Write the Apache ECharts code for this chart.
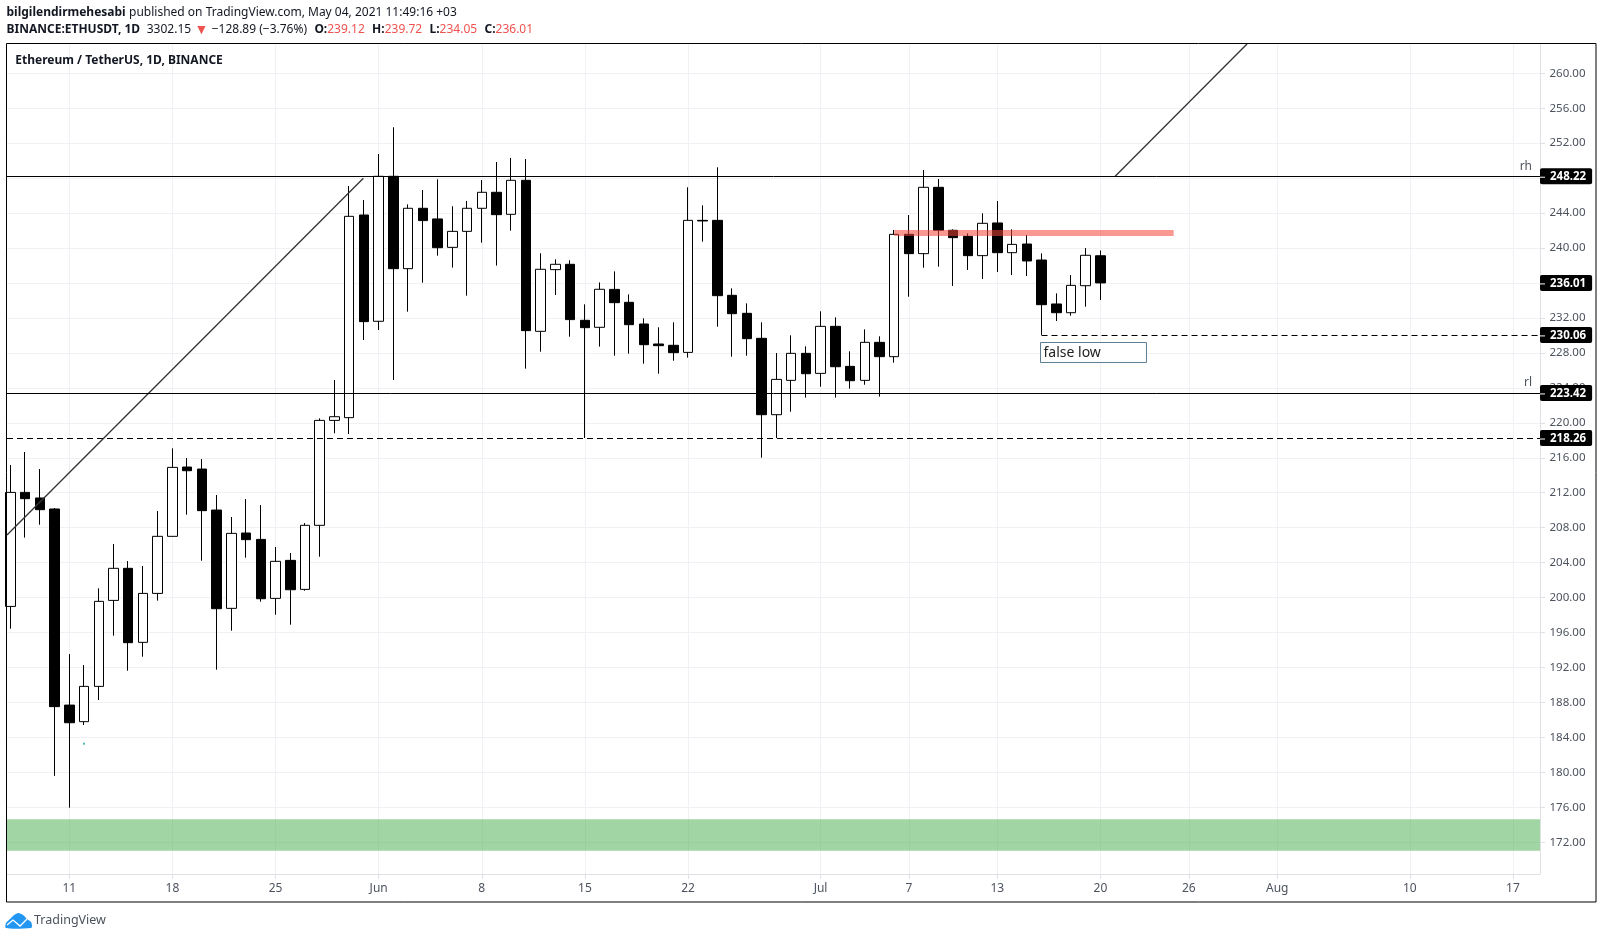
<!DOCTYPE html>
<html>
<head>
<meta charset="utf-8">
<style>html,body{margin:0;padding:0;background:#fff}#c{width:1603px;height:939px}</style>
<script src="https://cdn.jsdelivr.net/npm/echarts@6/dist/echarts.min.js"></script>
</head>
<body>
<div id="c"></div>
<script>
const firstDay = Date.UTC(2020, 4, 7);
const DAY = 86400000;
const opens = [198.99,212.04,211.40,210.14,187.70,185.80,189.84,199.68,203.35,194.88,200.48,207.01,214.94,214.71,210.02,198.77,207.39,206.66,199.91,204.26,200.94,208.27,220.28,220.59,243.78,231.62,248.21,237.64,244.55,243.33,240.08,241.91,244.55,246.38,243.86,247.75,230.47,237.53,238.14,231.73,230.93,235.27,233.79,231.31,229.02,228.87,228.06,243.17,243.17,234.59,232.53,229.67,220.93,224.86,227.95,225.66,231.04,226.46,224.86,229.21,227.57,241.57,239.36,246.95,242.03,241.34,239.13,242.87,239.47,240.46,238.63,233.60,232.60,235.69,239.12];
const closes = [212.04,211.32,210.06,187.52,185.68,189.84,199.57,203.35,194.84,200.48,207.01,214.90,214.52,209.95,198.73,207.35,206.63,199.87,204.15,200.90,208.27,220.28,220.70,243.63,231.58,248.21,237.64,244.55,243.14,240.04,241.91,244.55,246.38,243.82,247.75,230.55,237.57,238.14,231.81,230.89,235.28,233.75,231.23,228.94,228.83,228.03,243.17,243.10,234.55,232.49,229.63,220.93,224.97,227.95,225.62,231.04,226.42,224.82,229.21,227.57,241.57,239.36,246.95,242.03,241.19,239.13,242.83,239.47,240.42,238.52,233.52,232.60,235.73,239.17,236.01];
const lows = [196.44,206.86,208.34,179.60,175.96,185.42,188.28,195.64,191.63,193.24,199.65,207.01,209.49,204.22,191.75,196.21,204.57,199.53,198.04,196.90,200.79,204.68,218.80,218.72,229.48,230.62,224.90,232.72,236.04,239.13,237.76,234.55,240.62,237.99,241.99,226.20,228.14,234.63,229.86,218.26,228.72,227.68,227.91,226.77,225.62,227.11,227.46,240.73,231.00,227.57,227.68,216.01,218.26,221.27,222.88,224.13,222.88,223.91,224.36,223.00,226.88,234.43,237.75,237.87,235.66,237.49,236.46,237.26,236.91,236.80,230.06,231.65,232.26,233.29,234.05];
const highs = [215.17,216.66,214.71,210.25,193.54,192.28,201.06,206.13,204.18,203.61,209.91,217.08,215.97,215.86,211.74,209.22,211.28,210.59,205.79,205.10,208.53,220.51,224.90,247.10,245.50,250.76,253.82,245.00,246.64,247.87,244.78,245.39,247.79,249.85,250.31,250.19,239.40,238.71,238.60,233.56,236.07,237.33,234.70,231.96,230.93,231.50,246.95,244.89,249.24,235.39,233.67,231.50,227.99,230.01,228.75,232.76,232.07,228.18,230.70,229.90,242.07,243.78,248.93,247.90,242.14,241.68,243.97,245.38,242.14,241.49,239.39,234.82,236.91,240.00,239.72];

const dayLabels = [['2020-05-11','11'],['2020-05-18','18'],['2020-05-25','25'],['2020-06-01','Jun'],['2020-06-08','8'],['2020-06-15','15'],['2020-06-22','22'],['2020-07-01','Jul'],['2020-07-07','7'],['2020-07-13','13'],['2020-07-20','20'],['2020-07-26','26'],['2020-08-01','Aug'],['2020-08-10','10'],['2020-08-17','17']];
const priceTicks = [172,176,180,184,188,192,196,200,204,208,212,216,220,224,228,232,236,240,244,248,252,256,260];
const rangeHigh = 248.22, rangeLow = 223.42, lastClose = 236.01, falseLow = 230.06, lowerLevel = 218.26;
const greenZone = [171.03, 174.63];
const redZone = [241.38, 242.07];
const redZoneDays = [60.0, 78.97];
const falseLowStartDay = 70;
const trendA = [[-0.231, 207.16], [23.96, 247.98]];
const trendB = [[75.0, 248.22], [83.95, 263.35]];
const tealDot = [5, 183.28];
const axisDays = [-0.231, 103.84];

const xMin = axisDays[0], xMax = axisDays[1];
const candleData = opens.map((o, i) => [i, o, closes[i], lows[i], highs[i]]);
const tickDays = dayLabels.map(d => Math.round((Date.parse(d[0] + 'T00:00:00Z') - firstDay) / DAY));
const tickText = {}; dayLabels.forEach((d, i) => tickText[tickDays[i]] = d[1]);

function tag(v) {
  return {
    show: true, position: 'end', distance: 0,
    formatter: '{t|}{g|}{v|' + v.toFixed(2) + '}',
    backgroundColor: '#000', borderRadius: 2, padding: [2, 6, 0, 0],
    rich: {
      t: {width: 5, height: 1, backgroundColor: '#fff'},
      g: {width: 5, height: 14},
      v: {color: '#fff', fontFamily: 'Noto Sans', fontSize: 11.5, fontWeight: 'bold', lineHeight: 14}
    }
  };
}
function level(v, dashed, start) {
  const style = {color: '#000', width: dashed ? 1.2 : 1, type: dashed ? [6, 4] : 'solid'};
  return [{coord: [start, v], lineStyle: style, label: tag(v), symbol: 'none'}, {coord: [xMax, v], symbol: 'none'}];
}
const hiddenLast = level(lastClose, false, xMin);
hiddenLast[0].lineStyle = {color: 'rgba(0,0,0,0)', width: 0};

const chart = echarts.init(document.getElementById('c'), null, {renderer: 'canvas'});
const fontUI = 'Noto Sans';
chart.setOption({
  animation: false,
  backgroundColor: '#fff',
  grid: {left: 7, right: 63, top: 44, bottom: 65},
  xAxis: {
    type: 'value', min: xMin, max: xMax, scale: true,
    axisLine: {show: true, onZero: false, lineStyle: {color: '#dfe1e6', width: 1}},
    axisTick: {show: true, customValues: tickDays, length: 5, lineStyle: {color: '#dfe1e6'}},
    axisLabel: {customValues: tickDays, color: '#4c525e', fontFamily: fontUI, fontSize: 12, margin: 9,
      hideOverlap: false, formatter: v => tickText[v] || ''},
    splitLine: {show: true, lineStyle: {color: '#f0f1f4', width: 1}}
  },
  yAxis: {
    type: 'value', position: 'right', min: 168.37, max: 263.35, scale: true,
    axisLine: {show: true, onZero: false, lineStyle: {color: '#dfe1e6', width: 1}},
    axisTick: {show: true, customValues: priceTicks, length: 5, lineStyle: {color: '#dfe1e6'}},
    axisLabel: {customValues: priceTicks, color: '#4c525e', fontFamily: fontUI, fontSize: 11.5, margin: 9.5,
      hideOverlap: false, formatter: v => v.toFixed(2)},
    splitLine: {show: true, lineStyle: {color: '#f0f1f4', width: 1}}
  },
  series: [
    {
      type: 'candlestick', data: candleData, encode: {x: 0, y: [1, 2, 3, 4]},
      barWidth: 10, z: 3,
      itemStyle: {color: '#fff', color0: '#000', borderColor: '#000', borderColor0: '#000', borderWidth: 1},
      markArea: {
        silent: true, z: 6,
        data: [
          [{coord: [redZoneDays[0], redZone[1]], itemStyle: {color: 'rgba(244,67,54,0.55)'}}, {coord: [redZoneDays[1], redZone[0]]}],
          [{coord: [xMin, greenZone[1]], itemStyle: {color: 'rgba(76,175,80,0.52)'}}, {coord: [xMax, greenZone[0]]}]
        ]
      },
      markLine: {
        silent: true, symbol: 'none', z: 7, precision: 2,
        data: [
          level(rangeHigh, false, xMin),
          level(rangeLow, false, xMin),
          level(lowerLevel, true, xMin),
          level(falseLow, true, falseLowStartDay),
          hiddenLast
        ]
      }
    },
    {type: 'line', z: 5, showSymbol: false, symbol: 'none', silent: true, lineStyle: {color: '#333', width: 1.3},
      data: trendA},
    {type: 'line', z: 5, showSymbol: false, symbol: 'none', silent: true, lineStyle: {color: '#333', width: 1.3},
      data: trendB},
    {type: 'scatter', z: 5, silent: true, symbol: 'rect', symbolSize: 2, itemStyle: {color: '#26a69a'},
      data: [tealDot]}
  ],
  graphic: [
    {type: 'rect', silent: true, z: 50, shape: {x: 6.5, y: 43.5, width: 1589.5, height: 858.5},
      style: {fill: 'none', stroke: '#000', lineWidth: 1}},
    {type: 'text', z: 60, x: 6.5, y: 12.5, style: {
      text: '{b|bilgilendirmehesabi} {r|published on TradingView.com, May 04, 2021 11:49:16 +03}',
      verticalAlign: 'middle',
      rich: {b: {fontFamily: fontUI, fontSize: 12, fontWeight: 'bold', fill: '#131722'},
             r: {fontFamily: fontUI, fontSize: 12, fill: '#131722'}}}},
    {type: 'text', z: 60, x: 6.5, y: 30, style: {
      text: '{b|BINANCE:ETHUSDT, 1D}  {r|3302.15} {a|▼} {r|−128.89 (−3.76%)} {k|O:}{d|239.12} {k|H:}{d|239.72} {k|L:}{d|234.05} {k|C:}{d|236.01}',
      verticalAlign: 'middle',
      rich: {b: {fontFamily: fontUI, fontSize: 12, fontWeight: 'bold', fill: '#131722'},
             k: {fontFamily: fontUI, fontSize: 12, fontWeight: 'bold', fill: '#131722', padding: [0, 0, 0, 4]},
             r: {fontFamily: fontUI, fontSize: 12, fill: '#131722'},
             a: {fontFamily: fontUI, fontSize: 14, fill: '#ef5350'},
             d: {fontFamily: fontUI, fontSize: 12, fill: '#ef5350'}}}},
    {type: 'text', z: 60, x: 15.3, y: 61, style: {text: 'Ethereum / TetherUS, 1D, BINANCE',
      verticalAlign: 'middle', font: 'bold 12px "Noto Sans"', fill: '#131722'}},
    {type: 'text', z: 60, x: 1532, y: 167, style: {text: 'rh', align: 'right', verticalAlign: 'middle',
      font: '12px "Noto Sans"', fill: '#4c525e'}},
    {type: 'text', z: 60, x: 1532, y: 382.5, style: {text: 'rl', align: 'right', verticalAlign: 'middle',
      font: '12px "Noto Sans"', fill: '#4c525e'}},
    {type: 'rect', z: 58, silent: true, shape: {x: 1040.5, y: 342.5, width: 106, height: 20},
      style: {fill: '#fff', stroke: '#5d7f95', lineWidth: 1}},
    {type: 'text', z: 60, x: 1043.5, y: 353.5, style: {text: 'false low', verticalAlign: 'middle',
      font: '14px "Noto Sans"', fill: '#222'}},
    {type: 'polygon', z: 60, silent: true, shape: {smooth: 0.3, points: [[6, 928], [6, 923], [10, 919], [13, 916], [18, 913], [23, 915], [27, 919], [31, 922], [32, 926], [31, 928]]},
      style: {fill: '#2196f3'}},
    {type: 'polyline', z: 61, silent: true, shape: {points: [[7, 925], [13, 920], [20, 926], [27, 919]]},
      style: {stroke: '#fff', lineWidth: 1.3, fill: 'none'}},
    {type: 'text', z: 60, x: 34, y: 920.5, style: {text: 'TradingView', verticalAlign: 'middle',
      font: '12.5px "Noto Sans"', fill: '#4c525e'}}
  ]
});
</script>
</body>
</html>
